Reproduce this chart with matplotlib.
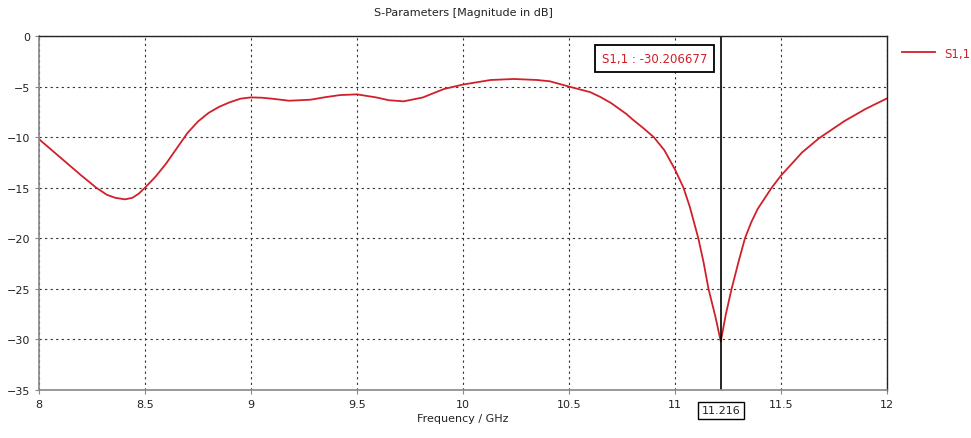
import matplotlib
matplotlib.use("Agg")
import matplotlib.pyplot as plt

freq = [8.0, 8.05, 8.1, 8.15, 8.2, 8.27, 8.32, 8.36, 8.406, 8.44, 8.47, 8.5, 8.55, 8.6, 8.65,
        8.7, 8.75, 8.8, 8.85, 8.9, 8.95, 9.0, 9.05, 9.1, 9.18, 9.28, 9.35, 9.42, 9.5, 9.59, 9.65,
        9.72, 9.81, 9.91, 10.0, 10.13, 10.24, 10.35, 10.41, 10.5, 10.6, 10.65, 10.7, 10.77, 10.8,
        10.85, 10.9, 10.95, 11.0, 11.04, 11.07, 11.11, 11.135, 11.158, 11.19, 11.216, 11.24,
        11.267, 11.3, 11.33, 11.36, 11.39, 11.456, 11.5, 11.6, 11.68, 11.74, 11.8, 11.9, 12.0]
s11 = [-10.2, -11.1, -12.0, -12.9, -13.8, -15.0, -15.7, -16.0, -16.15, -16.0, -15.6, -15.0, -13.9, -12.6, -11.1,
       -9.6, -8.45, -7.6, -7.0, -6.55, -6.2, -6.07, -6.1, -6.2, -6.4, -6.3, -6.05, -5.84, -5.77, -6.07, -6.35,
       -6.46, -6.08, -5.24, -4.8, -4.35, -4.25, -4.35, -4.48, -5.0, -5.55, -6.05, -6.65, -7.7, -8.25,
       -9.1, -10.0, -11.3, -13.2, -15.0, -16.9, -20.0, -22.4, -25.0, -27.7, -30.206677, -27.5,
       -25.0, -22.3, -20.0, -18.4, -17.1, -15.0, -13.8, -11.5, -10.1, -9.25, -8.4, -7.2, -6.17]
marker_f = 11.216
marker_v = -30.206677
xticks = [8, 8.5, 9, 9.5, 10, 10.5, 11, 11.5, 12]
xtick_labels = ["8", "8.5", "9", "9.5", "10", "10.5", "11", "11.5", "12"]
yticks = [0, -5, -10, -15, -20, -25, -30, -35]

plt.rcParams['font.family'] = ['DejaVu Sans']
fig = plt.figure(figsize=(9.71, 4.39), dpi=100)
ax = fig.add_axes([39/971, 1-391/439, 848/971, 354/439])
red = '#d0202a'
ax.plot(freq, s11, color=red, lw=1.3, label='S1,1', solid_joinstyle='round')
ax.axvline(marker_f, color='black', lw=1.2)
ax.set_xlim(8, 12)
ax.set_ylim(-35, 0)
ax.set_xticks(xticks)
ax.set_xticklabels(xtick_labels)
ax.set_yticks(yticks)
ax.grid(True, color='#333333', ls=(0, (2, 3)), lw=0.8)
ax.tick_params(labelsize=8, length=3, color='#888888', labelcolor='#222222')
for s in ['top', 'right']:
    ax.spines[s].set_color('#222222')
    ax.spines[s].set_linewidth(1.0)
for s in ['left', 'bottom']:
    ax.spines[s].set_color('#888888')
    ax.spines[s].set_linewidth(1.2)

ax.text(10.903, -2.23, f"S1,1 : {marker_v:.6f}", color=red, fontsize=8.5, ha='center', va='center',
        bbox=dict(boxstyle='square,pad=0.6', fc='white', ec='black', lw=1.3))
ax.text(marker_f, -37.0, f"{marker_f:.3f}", fontsize=8, ha='center', va='center', color='#222222',
        bbox=dict(boxstyle='square,pad=0.3', fc='white', ec='black', lw=1.0), clip_on=False)

ax.set_title("S-Parameters [Magnitude in dB]", fontsize=8, pad=15, color='#222222')
ax.set_xlabel("Frequency / GHz", fontsize=8, labelpad=3, color='#222222')
leg = ax.legend(loc='upper left', bbox_to_anchor=(1.005, 1.0), frameon=False, fontsize=8.5,
                handlelength=2.8, labelcolor=red)
fig.savefig("out.png", dpi=100)
